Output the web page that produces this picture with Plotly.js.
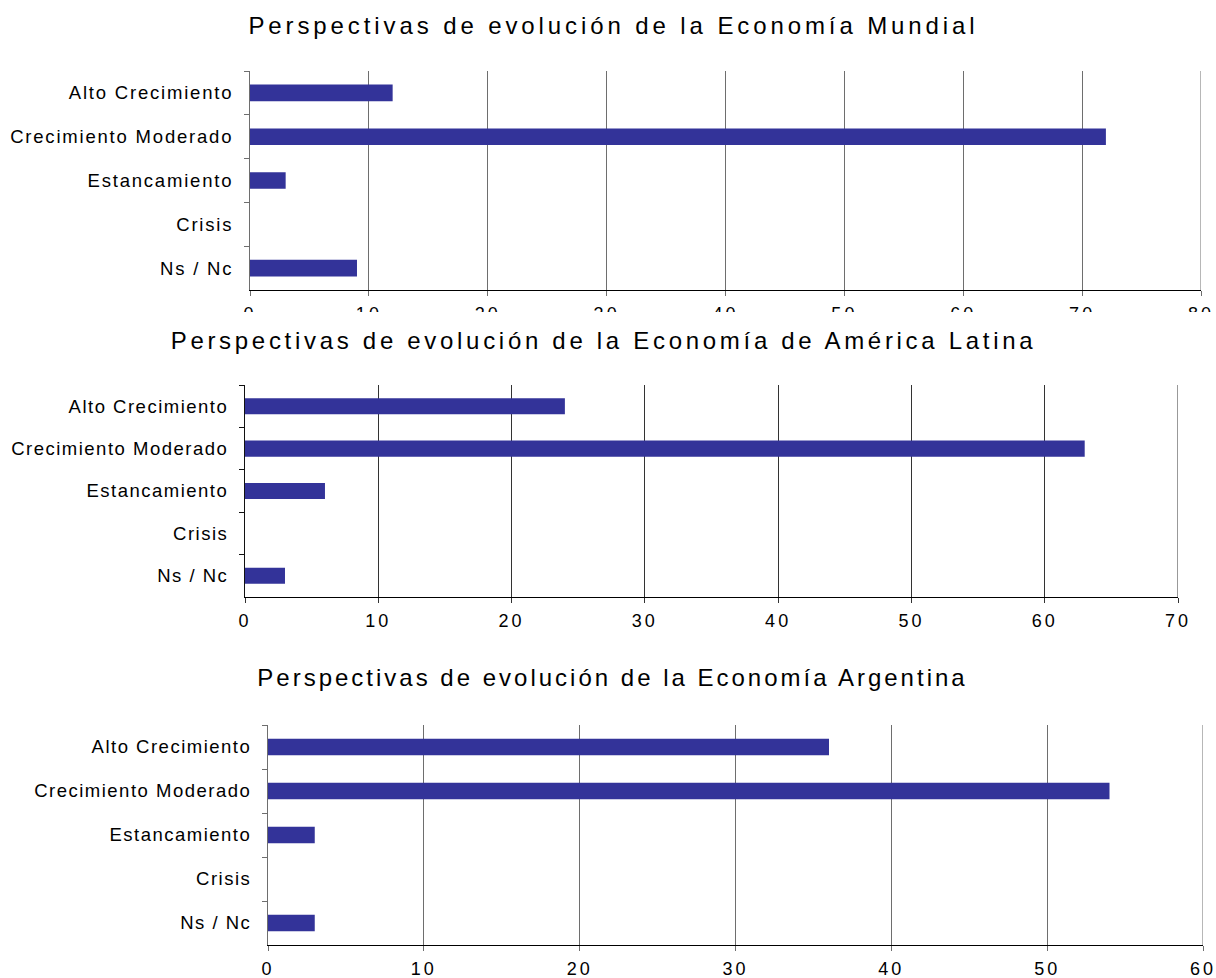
<!DOCTYPE html>
<html>
<head>
<meta charset="utf-8">
<script src="https://cdn.plot.ly/plotly-3.0.1.min.js"></script>
<style>
  html, body { margin: 0; padding: 0; background: #fff; }
  .chart { position: absolute; left: 0; width: 1216px; overflow: hidden; }
  #c1 .gtitle { letter-spacing: 3.9px; }
  #c2 .gtitle { letter-spacing: 3.7px; }
  #c3 .gtitle { letter-spacing: 3.0px; }
  #c1 .ytick text { letter-spacing: 1.8px; }
  #c2 .ytick text, #c3 .ytick text { letter-spacing: 1.5px; }
  .xtick text { letter-spacing: 3px; }
</style>
</head>
<body>
<div id="c1" class="chart" style="top:0px;height:312px;"></div>
<div id="c2" class="chart" style="top:312px;height:338px;"></div>
<div id="c3" class="chart" style="top:650px;height:328px;"></div>
<script>
// ---- data ----
const categories = ['Alto Crecimiento', 'Crecimiento Moderado', 'Estancamiento', 'Crisis', 'Ns / Nc'];
const mundial = [12, 72, 3, 0, 9];
const latina = [24, 63, 6, 0, 3];
const argentina = [36, 54, 3, 0, 3];
const titles = [
  'Perspectivas de evolución de la Economía Mundial',
  'Perspectivas de evolución de la Economía de América Latina',
  'Perspectivas de evolución de la Economía Argentina'
];
const xMax = [80, 70, 60];

const FONT = 'Liberation Sans, Arial, sans-serif';
const BAR = '#333399';

function draw(id, values, title, max, opt) {
  const trace = {
    type: 'bar',
    orientation: 'h',
    x: values,
    y: categories,
    marker: { color: BAR },
    hoverinfo: 'x+y'
  };
  const layout = {
    width: 1216,
    height: opt.height,
    margin: { l: opt.l, r: opt.r, t: opt.t, b: opt.b, pad: 0 },
    paper_bgcolor: '#ffffff',
    plot_bgcolor: '#ffffff',
    showlegend: false,
    bargap: 0.62,
    font: { family: FONT, color: '#000000' },
    title: {
      text: title,
      font: { family: FONT, size: 24, color: '#000000' },
      xref: 'container', yref: 'container',
      x: opt.titleX, y: opt.titleY,
      xanchor: 'center', yanchor: 'middle'
    },
    xaxis: {
      range: [0, max],
      dtick: 10,
      tick0: 0,
      showgrid: true,
      gridcolor: opt.grid,
      gridwidth: 1,
      zeroline: false,
      showline: true,
      linecolor: '#000000',
      linewidth: 1,
      ticks: 'outside',
      ticklen: 5,
      tickcolor: opt.grid,
      tickfont: { family: FONT, size: 18, color: '#000000' },
      ticklabelstandoff: 2,
      ticklabeloverflow: 'allow',
      fixedrange: true
    },
    yaxis: {
      type: 'category',
      range: [4.5, -0.5],
      tickson: 'boundaries',
      showgrid: false,
      zeroline: false,
      showline: true,
      linecolor: opt.yline,
      linewidth: 1,
      ticks: 'outside',
      ticklen: 5,
      tickcolor: opt.yline,
      tickfont: { family: FONT, size: 18.5, color: '#000000' },
      ticklabelstandoff: 12,
      fixedrange: true
    },
    shapes: [{
      type: 'line', xref: 'x', yref: 'paper',
      x0: max, x1: max, y0: 0, y1: 1,
      line: { color: opt.grid, width: 1 },
      layer: 'below'
    }]
  };
  Plotly.newPlot(id, [trace], layout, { displayModeBar: false, staticPlot: true });
}

draw('c1', mundial, titles[0], xMax[0], {
  height: 312, l: 250, r: 15, t: 71, b: 22,
  titleX: 0.5045, titleY: 1 - 26 / 312,
  grid: '#6e6e6e', yline: '#6e6e6e'
});
draw('c2', latina, titles[1], xMax[1], {
  height: 338, l: 245, r: 38, t: 73, b: 53,
  titleX: 0.4963, titleY: 1 - 28.5 / 338,
  grid: '#333333', yline: '#111111'
});
draw('c3', argentina, titles[2], xMax[2], {
  height: 328, l: 268, r: 13, t: 75, b: 33,
  titleX: 0.5037, titleY: 1 - 28 / 328,
  grid: '#6e6e6e', yline: '#6e6e6e'
});
</script>
</body>
</html>
